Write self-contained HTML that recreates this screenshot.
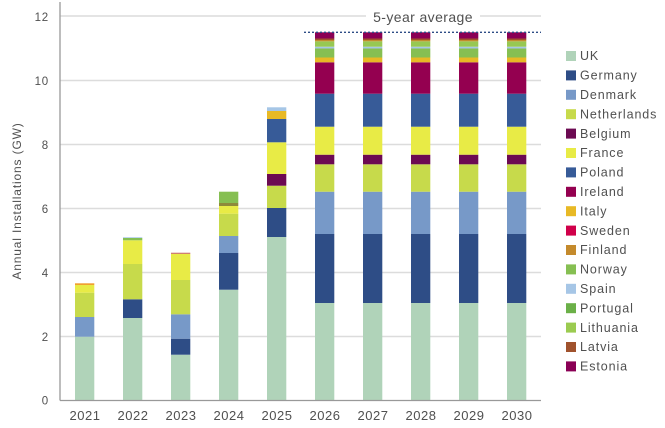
<!DOCTYPE html>
<html><head><meta charset="utf-8"><style>
html,body{margin:0;padding:0;background:#fff;}
svg{display:block;}
text{font-family:"Liberation Sans",sans-serif;fill:#505050;}
</style></head><body>
<svg width="665" height="428" viewBox="0 0 665 428" xmlns="http://www.w3.org/2000/svg">
<!-- gridlines -->
<g stroke="#dcdcdc" stroke-width="1.5">
<line x1="60" y1="16" x2="366" y2="16"/>
<line x1="480" y1="16" x2="541" y2="16"/>
<line x1="60" y1="80.5" x2="541" y2="80.5"/>
<line x1="60" y1="144.5" x2="541" y2="144.5"/>
<line x1="60" y1="208.5" x2="541" y2="208.5"/>
<line x1="60" y1="272.5" x2="541" y2="272.5"/>
<line x1="60" y1="336.5" x2="541" y2="336.5"/>
</g>
<text x="423" y="22" font-size="14" letter-spacing="0.4" text-anchor="middle">5-year average</text>
<!-- bars -->
<g>
<!-- 2021 -->
<rect x="75" y="336.7" width="19.3" height="63.3" fill="#B0D3B9"/>
<rect x="75" y="317" width="19.3" height="19.7" fill="#7799C8"/>
<rect x="75" y="292.7" width="19.3" height="24.3" fill="#C7DA4B"/>
<rect x="75" y="285" width="19.3" height="7.7" fill="#E8EB46"/>
<rect x="75" y="283.3" width="19.3" height="1.7" fill="#F0A030"/>
<!-- 2022 -->
<rect x="123" y="318" width="19.3" height="82" fill="#B0D3B9"/>
<rect x="123" y="299.3" width="19.3" height="18.7" fill="#2E4D86"/>
<rect x="123" y="264" width="19.3" height="35.3" fill="#C7DA4B"/>
<rect x="123" y="240.3" width="19.3" height="23.7" fill="#E8EB46"/>
<rect x="123" y="238" width="19.3" height="2.3" fill="#86BF52"/>
<rect x="123" y="237.3" width="19.3" height="0.7" fill="#A6C6E6"/>
<!-- 2023 -->
<rect x="171" y="354.7" width="19.3" height="45.3" fill="#B0D3B9"/>
<rect x="171" y="338.7" width="19.3" height="16" fill="#2E4D86"/>
<rect x="171" y="314.3" width="19.3" height="24.4" fill="#7799C8"/>
<rect x="171" y="280" width="19.3" height="34.3" fill="#C7DA4B"/>
<rect x="171" y="254" width="19.3" height="26" fill="#E8EB46"/>
<rect x="171" y="252.7" width="19.3" height="1.3" fill="#D08070"/>
<!-- 2024 -->
<rect x="219" y="289.7" width="19.3" height="110.3" fill="#B0D3B9"/>
<rect x="219" y="253" width="19.3" height="36.7" fill="#2E4D86"/>
<rect x="219" y="236" width="19.3" height="17" fill="#7799C8"/>
<rect x="219" y="213.7" width="19.3" height="22.3" fill="#C7DA4B"/>
<rect x="219" y="206" width="19.3" height="7.7" fill="#E8EB46"/>
<rect x="219" y="203" width="19.3" height="3" fill="#8E8A3A"/>
<rect x="219" y="191.7" width="19.3" height="11.3" fill="#86BF52"/>
<!-- 2025 -->
<rect x="267" y="237" width="19.3" height="163" fill="#B0D3B9"/>
<rect x="267" y="208" width="19.3" height="29" fill="#2E4D86"/>
<rect x="267" y="185.7" width="19.3" height="22.3" fill="#C7DA4B"/>
<rect x="267" y="174" width="19.3" height="11.7" fill="#6C0A52"/>
<rect x="267" y="142.3" width="19.3" height="31.7" fill="#E8EB46"/>
<rect x="267" y="119" width="19.3" height="23.3" fill="#375B98"/>
<rect x="267" y="111" width="19.3" height="8" fill="#E8B925"/>
<rect x="267" y="107.3" width="19.3" height="3.7" fill="#A6C6E6"/>
</g>
<defs>
<g id="fb">
<rect x="0" y="303" width="19.3" height="97" fill="#B0D3B9"/>
<rect x="0" y="234" width="19.3" height="69" fill="#2E4D86"/>
<rect x="0" y="191.7" width="19.3" height="42.3" fill="#7799C8"/>
<rect x="0" y="164.3" width="19.3" height="27.4" fill="#C7DA4B"/>
<rect x="0" y="154.7" width="19.3" height="9.6" fill="#6C0A52"/>
<rect x="0" y="126.7" width="19.3" height="28" fill="#E8EB46"/>
<rect x="0" y="93.7" width="19.3" height="33" fill="#375B98"/>
<rect x="0" y="62.3" width="19.3" height="31.4" fill="#940050"/>
<rect x="0" y="57.5" width="19.3" height="4.8" fill="#E8B925"/>
<rect x="0" y="48.5" width="19.3" height="9" fill="#86BF52"/>
<rect x="0" y="46.7" width="19.3" height="1.8" fill="#A6C6E6"/>
<rect x="0" y="41.3" width="19.3" height="5.4" fill="#97C852"/>
<rect x="0" y="40" width="19.3" height="1.3" fill="#C48A2C"/>
<rect x="0" y="38.5" width="19.3" height="1.5" fill="#A0522D"/>
<rect x="0" y="32.3" width="19.3" height="6.2" fill="#8A0055"/>
</g>
</defs>
<use href="#fb" x="315"/>
<use href="#fb" x="363"/>
<use href="#fb" x="411"/>
<use href="#fb" x="459"/>
<use href="#fb" x="507"/>
<!-- 5-year average dotted line -->
<line x1="304" y1="32.3" x2="541" y2="32.3" stroke="#2E4D86" stroke-width="1.3" stroke-dasharray="2,2"/>
<!-- axes -->
<line x1="60" y1="2" x2="60" y2="400.5" stroke="#999" stroke-width="1.3"/>
<line x1="60" y1="400.5" x2="541" y2="400.5" stroke="#999" stroke-width="1.3"/>
<!-- y ticks -->
<g font-size="11.5" letter-spacing="0.8" text-anchor="end">
<text x="49" y="21">12</text>
<text x="49" y="85">10</text>
<text x="49" y="149">8</text>
<text x="49" y="213">6</text>
<text x="49" y="277">4</text>
<text x="49" y="341">2</text>
<text x="49" y="404.5">0</text>
</g>
<text transform="translate(21,201) rotate(-90)" font-size="12" letter-spacing="0.85" text-anchor="middle">Annual Installations (GW)</text>
<!-- x labels -->
<g font-size="13" letter-spacing="0.5" text-anchor="middle">
<text x="85" y="420">2021</text>
<text x="133" y="420">2022</text>
<text x="181" y="420">2023</text>
<text x="229" y="420">2024</text>
<text x="277" y="420">2025</text>
<text x="325" y="420">2026</text>
<text x="373" y="420">2027</text>
<text x="421" y="420">2028</text>
<text x="469" y="420">2029</text>
<text x="517" y="420">2030</text>
</g>
<!-- legend -->
<g font-size="12.5" letter-spacing="0.9">
<rect x="566" y="51" width="10" height="10" fill="#B0D3B9"/><text x="580" y="60.2">UK</text>
<rect x="566" y="70.4" width="10" height="10" fill="#2E4D86"/><text x="580" y="79.6">Germany</text>
<rect x="566" y="89.8" width="10" height="10" fill="#7799C8"/><text x="580" y="99">Denmark</text>
<rect x="566" y="109.2" width="10" height="10" fill="#C7DA4B"/><text x="580" y="118.4">Netherlands</text>
<rect x="566" y="128.6" width="10" height="10" fill="#6C0A52"/><text x="580" y="137.8">Belgium</text>
<rect x="566" y="148" width="10" height="10" fill="#E8EB46"/><text x="580" y="157.2">France</text>
<rect x="566" y="167.4" width="10" height="10" fill="#375B98"/><text x="580" y="176.6">Poland</text>
<rect x="566" y="186.8" width="10" height="10" fill="#940050"/><text x="580" y="196">Ireland</text>
<rect x="566" y="206.2" width="10" height="10" fill="#E8B925"/><text x="580" y="215.4">Italy</text>
<rect x="566" y="225.6" width="10" height="10" fill="#D0004A"/><text x="580" y="234.8">Sweden</text>
<rect x="566" y="245" width="10" height="10" fill="#C48A2C"/><text x="580" y="254.2">Finland</text>
<rect x="566" y="264.4" width="10" height="10" fill="#86BF52"/><text x="580" y="273.6">Norway</text>
<rect x="566" y="283.8" width="10" height="10" fill="#A6C6E6"/><text x="580" y="293">Spain</text>
<rect x="566" y="303.2" width="10" height="10" fill="#6BB048"/><text x="580" y="312.4">Portugal</text>
<rect x="566" y="322.6" width="10" height="10" fill="#9BCB50"/><text x="580" y="331.8">Lithuania</text>
<rect x="566" y="342" width="10" height="10" fill="#A0522D"/><text x="580" y="351.2">Latvia</text>
<rect x="566" y="361.4" width="10" height="10" fill="#8A0055"/><text x="580" y="370.6">Estonia</text>
</g>
</svg>
</body></html>
